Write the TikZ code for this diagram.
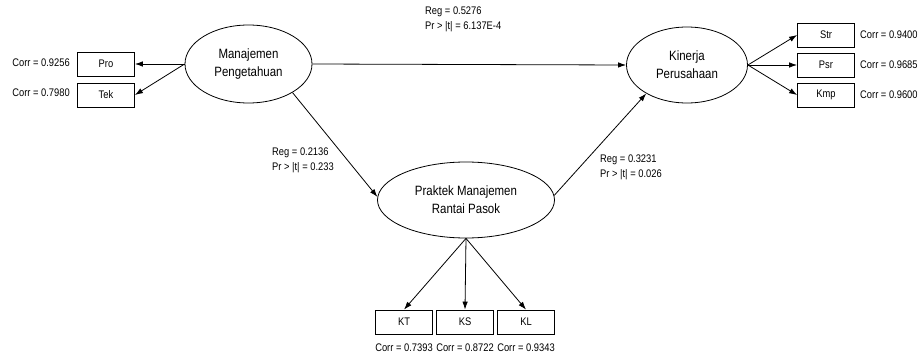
\documentclass[tikz,border=0pt]{standalone}
\usepackage{fontspec}
\setmainfont{Liberation Sans}[FakeStretch=0.85]
\usetikzlibrary{arrows,arrows.meta,shapes.geometric}

\begin{document}
\begin{tikzpicture}[x=1pt,y=-1pt,
  latent/.style={draw,ellipse,inner sep=0pt,align=center,line width=0.8pt,
    font=\fontsize{13.5}{18}\selectfont},
  indikator/.style={draw,minimum width=57pt,minimum height=24pt,inner sep=0pt,
    line width=0.8pt,font=\fontsize{11}{13}\selectfont},
  hasil/.style={align=left,inner sep=0pt,font=\fontsize{11}{15}\selectfont},
  panah/.style={-{Latex[length=8pt,width=5.5pt]},line width=0.8pt}]
\useasboundingbox (0,0) rectangle (919,356);

% variabel laten
\node[latent,minimum width=127pt,minimum height=78pt] (mp) at (248.5,64) {Manajemen\\Pengetahuan};
\node[latent,minimum width=121pt,minimum height=76pt] (kp) at (687,65) {Kinerja\\Perusahaan};
\node[latent,minimum width=177pt,minimum height=76pt] (pmr) at (466,200) {Praktek Manajemen\\Rantai Pasok};

% indikator
\node[indikator] (pro) at (106,64) {Pro};
\node[indikator] (tek) at (106,95) {Tek};
\node[indikator] (str) at (826,35) {Str};
\node[indikator] (psr) at (826,65) {Psr};
\node[indikator] (kmp) at (826,95) {Kmp};
\node[indikator] (kt) at (404,322) {KT};
\node[indikator] (ks) at (465,322) {KS};
\node[indikator] (kl) at (526,322) {KL};

% korelasi
\node[hasil,anchor=east] (cpro) at (70,63) {Corr = 0.9256};
\node[hasil,anchor=east] (ctek) at (70,93) {Corr = 0.7980};
\node[hasil,anchor=west] (cstr) at (860,35) {Corr = 0.9400};
\node[hasil,anchor=west] (cpsr) at (860,65) {Corr = 0.9685};
\node[hasil,anchor=west] (ckmp) at (860,95) {Corr = 0.9600};
\node[hasil] (ckt) at (404,348) {Corr = 0.7393};
\node[hasil] (cks) at (465,348) {Corr = 0.8722};
\node[hasil] (ckl) at (526,348) {Corr = 0.9343};

% regresi
\node[hasil,anchor=west] (r1) at (425,19.5) {Reg = 0.5276\\Pr > |t| = 6.137E-4};
\node[hasil,anchor=west] (r2) at (272,160.5) {Reg = 0.2136\\Pr > |t| = 0.233};
\node[hasil,anchor=west] (r3) at (600,167.5) {Reg = 0.3231\\Pr > |t| = 0.026};

\draw[panah] (mp.west) -- (pro.east);
\draw[panah] (mp.west) -- (tek.east);
\draw[panah] (kp.east) -- (str.west);
\draw[panah] (kp.east) -- (psr.west);
\draw[panah] (kp.east) -- (kmp.west);
\draw[panah] (pmr.south) -- (kt.north);
\draw[panah] (pmr.south) -- (ks.north);
\draw[panah] (pmr.south) -- (kl.north);

\draw[panah] (mp.east) -- (kp.west);
\draw[panah] (mp.-33) -- (pmr.178);
\draw[panah] (pmr.3) -- (kp.215);
\end{tikzpicture}
\end{document}
